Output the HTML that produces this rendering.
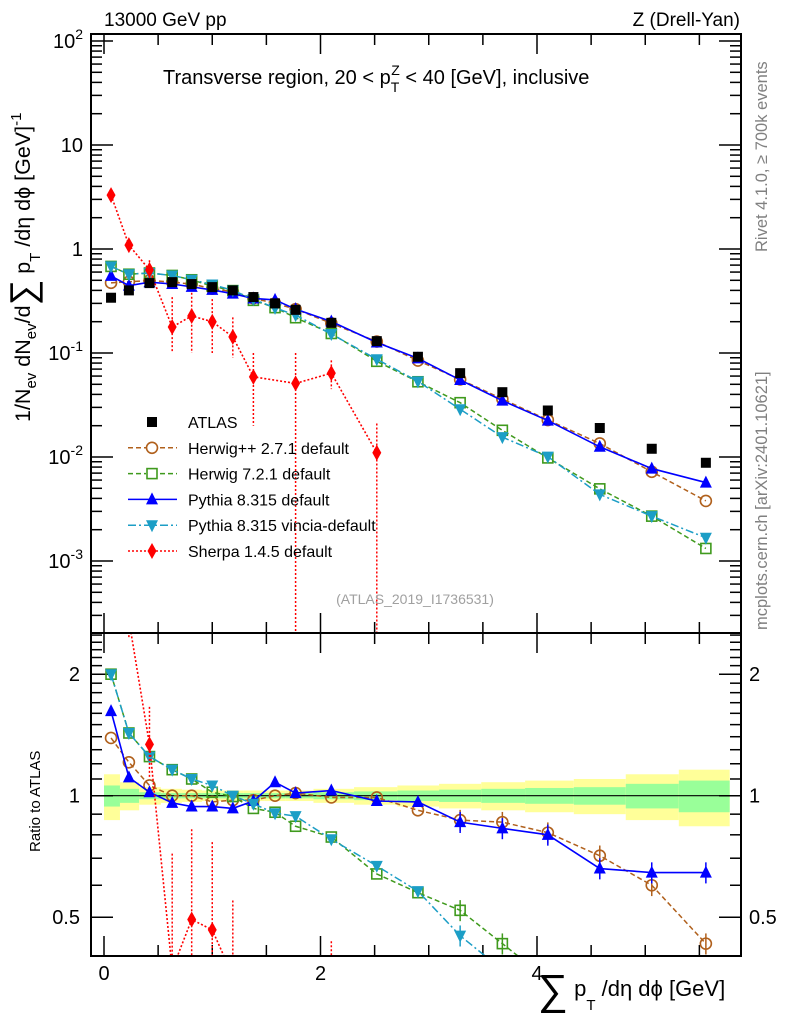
<!DOCTYPE html>
<html><head><meta charset="utf-8"><style>
html,body{margin:0;padding:0;background:#fff;overflow:hidden;width:786px;height:1024px}
svg{display:block;font-family:"Liberation Sans",sans-serif}
</style></head><body>
<svg id="c" width="786" height="1024" viewBox="0 0 786 1024" xmlns="http://www.w3.org/2000/svg">
<defs>
<clipPath id="cm"><rect x="91" y="35" width="650" height="598"/></clipPath>
<clipPath id="cr"><rect x="91" y="634" width="650" height="322"/></clipPath>
</defs>
<rect width="786" height="1024" fill="#fff"/>
<g id="bands" clip-path="url(#cr)"></g>
<g id="grid"></g>
<g id="mainSeries" clip-path="url(#cm)"></g>
<g id="ratioSeries" clip-path="url(#cr)"></g>
<rect x="91" y="34" width="650" height="599" fill="none" stroke="#000" stroke-width="2"/>
<rect x="91" y="633" width="650" height="323" fill="none" stroke="#000" stroke-width="2"/>
<text x="104" y="26" font-size="19">13000 GeV pp</text>
<text x="740" y="26" font-size="19" text-anchor="end">Z (Drell-Yan)</text>
<text x="163" y="84" font-size="20">Transverse region, 20 &lt; p<tspan font-size="14" dy="8">T</tspan><tspan font-size="14" dx="-8" dy="-17">Z</tspan><tspan dy="9"> &lt; 40 [GeV], inclusive</tspan></text>
<text transform="translate(767,252) rotate(-90)" font-size="16.5" fill="#808080">Rivet 4.1.0, ≥ 700k events</text>
<text transform="translate(767,630) rotate(-90)" font-size="16.5" fill="#808080">mcplots.cern.ch [arXiv:2401.10621]</text>
<text x="415" y="604" font-size="14" fill="#a0a0a0" text-anchor="middle">(ATLAS_2019_I1736531)</text>
<text transform="translate(30,422) rotate(-90)" font-size="21.5">1/N<tspan font-size="15" dy="6">ev</tspan><tspan dy="-6"> dN</tspan><tspan font-size="15" dy="6">ev</tspan><tspan dy="-6">/d</tspan><tspan font-size="36" dy="5">∑</tspan><tspan dy="-5"> p</tspan><tspan font-size="15" dy="10">T</tspan><tspan dy="-10"> /dη dϕ  [GeV]</tspan><tspan font-size="15" dy="-9">-1</tspan></text>
<text transform="translate(40,852) rotate(-90)" font-size="15">Ratio to ATLAS</text>
<text x="538" y="996" font-size="22"><tspan font-size="42" dy="8">∑</tspan><tspan dy="-8"> p</tspan><tspan font-size="15" dy="14">T</tspan><tspan dy="-14"> /dη dϕ [GeV]</tspan></text>
<g id="legend"></g>
<script>
const xCenters=[0.065,0.23,0.42,0.63,0.81,1.0,1.19,1.38,1.58,1.77,2.1,2.52,2.9,3.29,3.68,4.1,4.58,5.06,5.56];
const atlas=[0.34,0.40,0.47,0.48,0.46,0.43,0.40,0.345,0.30,0.26,0.195,0.13,0.092,0.064,0.042,0.028,0.019,0.012,0.0088];
const ratioHwpp=[1.39,1.21,1.06,1.0,1.0,0.965,0.975,0.975,1.0,1.015,0.99,0.99,0.92,0.87,0.86,0.81,0.71,0.60,0.43];
const ratioHw7=[2.0,1.43,1.25,1.16,1.10,1.02,0.995,0.93,0.91,0.84,0.79,0.64,0.575,0.52,0.43,0.35,0.26,0.225,0.15];
const ratioPy8=[1.62,1.11,1.02,0.96,0.94,0.94,0.93,0.97,1.08,1.015,1.03,0.97,0.965,0.86,0.83,0.80,0.66,0.645,0.645];
const ratioVincia=[2.0,1.43,1.25,1.16,1.10,1.06,1.0,0.955,0.905,0.89,0.78,0.67,0.58,0.45,0.37,0.36,0.23,0.225,0.19];
const sherpa=[3.3,1.09,0.63,0.178,0.227,0.20,0.143,0.059,null,0.051,0.064,0.011,null,null,null,null,null,null,null];
const sherpaLo=[3.0,0.98,0.52,0.10,0.10,0.10,0.09,0.02,null,0,0.045,0,null,null,null,null,null,null,null];
const sherpaHi=[3.6,1.2,0.78,0.345,0.38,0.33,0.22,0.10,null,0.10,0.085,0.021,null,null,null,null,null,null,null];
const bandYellow=[0.13,0.08,0.05,0.04,0.035,0.03,0.03,0.03,0.03,0.03,0.04,0.05,0.06,0.07,0.08,0.09,0.1,0.13,0.16];
const bandGreen=[0.06,0.04,0.02,0.015,0.015,0.015,0.015,0.015,0.015,0.015,0.02,0.025,0.03,0.035,0.04,0.045,0.05,0.07,0.09];
const xTicks=[0,2,4];
const mainDecades=[-3,-2,-1,0,1,2];
const ratioTicks=[0.5,1,2];

const NS="http://www.w3.org/2000/svg";
const X=v=>104+v*108.25;
const Ym=v=>249-104*Math.log10(v);
const Yr=r=>795.7-121.5*Math.log2(r);
function mk(tag,attrs,parent){const e=document.createElementNS(NS,tag);for(const k in attrs)e.setAttribute(k,attrs[k]);parent.appendChild(e);return e;}
const grid=document.getElementById('grid');
for(let v=0;v<=5.8;v+=0.5){
  const major=Math.abs(v-Math.round(v/2)*2)<1e-6;
  const L=major?20:11;
  const x=X(v);
  [[34,34+L],[633,633-L],[633,633+L],[956,956-L]].forEach(p=>{
    const t=mk('line',{x1:x,x2:x,y1:p[0],y2:p[1],stroke:'#000','stroke-width':1.5},grid);
    
    
  });
}
xTicks.forEach(v=>{
  const t=mk('text',{x:X(v),y:980,'font-size':20,'text-anchor':'middle'},grid);t.textContent=v;
  
  
});
for(let d=-4;d<=2;d++){
  for(let m=1;m<10;m++){
    const v=m*Math.pow(10,d);const y=Ym(v);
    if(y<34||y>633)continue;
    const L=m===1?22:11;
    [[91,91+L],[741,741-L]].forEach(p=>{
      const t=mk('line',{x1:p[0],x2:p[1],y1:y,y2:y,stroke:'#000','stroke-width':1.5},grid);
      
      
    });
  }
}
mainDecades.forEach(d=>{
  const y=Ym(Math.pow(10,d));
  const t=mk('text',{x:83,y:y+7,'font-size':20,'text-anchor':'end'},grid);
  if(d===0)t.textContent='1';else if(d===1)t.textContent='10';
  else{t.textContent='10';const s=mk('tspan',{'font-size':14,dy:-9},t);s.textContent=String(d);}
  
  
});
const rMinor=[0.4,0.5,0.6,0.7,0.8,0.9,1,1.1,1.2,1.3,1.4,1.5,1.6,1.7,1.8,1.9,2,2.1,2.2,2.3,2.4,2.5];
rMinor.forEach(r=>{
  const y=Yr(r);if(y<633||y>956)return;
  const L=(r===0.5||r===1||r===2)?22:11;
  [[91,91+L],[741,741-L]].forEach(p=>{
    const t=mk('line',{x1:p[0],x2:p[1],y1:y,y2:y,stroke:'#000','stroke-width':1.5},grid);
    
    
  });
});
ratioTicks.forEach(r=>{
  [[80,'end'],[749,'start']].forEach(p=>{
    const t=mk('text',{x:p[0],y:Yr(r)+7,'font-size':20,'text-anchor':p[1]},grid);t.textContent=r;
    
    
  });
});
const bands=document.getElementById('bands');
const edges=xCenters.map((c,i)=>i===0?0:(xCenters[i-1]+c)/2);edges.push(5.78);
xCenters.forEach((c,i)=>{
  const x1=X(edges[i]),x2=X(edges[i+1]);
  const y=mk('rect',{x:x1,width:x2-x1,y:Yr(1+bandYellow[i]),height:Yr(1-bandYellow[i])-Yr(1+bandYellow[i]),fill:'#ffff99'},bands);
  
  
  const g=mk('rect',{x:x1,width:x2-x1,y:Yr(1+bandGreen[i]),height:Yr(1-bandGreen[i])-Yr(1+bandGreen[i]),fill:'#99ff99'},bands);
  
  
});
const one=mk('line',{x1:91,x2:741,y1:Yr(1),y2:Yr(1),stroke:'#000','stroke-width':1.2},bands);



function marker(type,x,y,color,parent){
  let e;
  if(type==='sq')e=mk('rect',{x:x-5,y:y-5,width:10,height:10,fill:color},parent);
  else if(type==='osq')e=mk('rect',{x:x-5,y:y-5,width:10,height:10,fill:'none',stroke:color,'stroke-width':1.6},parent);
  else if(type==='circ')e=mk('circle',{cx:x,cy:y,r:5.5,fill:'none',stroke:color,'stroke-width':1.6},parent);
  else if(type==='up')e=mk('polygon',{points:`${x},${y-7} ${x-6},${y+5} ${x+6},${y+5}`,fill:color},parent);
  else if(type==='dn')e=mk('polygon',{points:`${x},${y+7} ${x-6},${y-5} ${x+6},${y-5}`,fill:color},parent);
  else if(type==='dia')e=mk('polygon',{points:`${x},${y-8} ${x-4.5},${y} ${x},${y+8} ${x+4.5},${y}`,fill:color},parent);
  return e;
}
const mainG=document.getElementById('mainSeries');
const ratG=document.getElementById('ratioSeries');
const series=[
 {name:'herwigpp',ratio:ratioHwpp,color:'#b0601c',m:'circ',dash:'5,3',w:1.5},
 {name:'herwig7',ratio:ratioHw7,color:'#3f9a1d',m:'osq',dash:'5,3',w:1.5},
 {name:'pythia8',ratio:ratioPy8,color:'#0000ff',m:'up',dash:'',w:1.6},
 {name:'pythia8-vincia',ratio:ratioVincia,color:'#1c9ec6',m:'dn',dash:'8,3,2,3',w:1.5}
];
series.forEach(s=>{
  const vals=s.ratio.map((r,i)=>r*atlas[i]);
  const pm=mk('polyline',{points:vals.map((v,i)=>X(xCenters[i])+','+Ym(v)).join(' '),fill:'none',stroke:s.color,'stroke-width':s.w,'stroke-dasharray':s.dash},mainG);
  
  
  const pr=mk('polyline',{points:s.ratio.map((r,i)=>X(xCenters[i])+','+Yr(r)).join(' '),fill:'none',stroke:s.color,'stroke-width':s.w,'stroke-dasharray':s.dash},ratG);
  
  
  vals.forEach((v,i)=>{
    const x=X(xCenters[i]);
    if(i>=13){const e=0.06;const eb=mk('line',{x1:x,x2:x,y1:Yr(s.ratio[i]*(1+e)),y2:Yr(s.ratio[i]*(1-e)),stroke:s.color,'stroke-width':1.5},ratG);
      
      }
    const a=marker(s.m,x,Ym(v),s.color,mainG);
    
    
    const b=marker(s.m,x,Yr(s.ratio[i]),s.color,ratG);
    
    
  });
});
const sIdx=sherpa.map((v,i)=>i).filter(i=>sherpa[i]!==null);
const sl=mk('polyline',{points:sIdx.map(i=>X(xCenters[i])+','+Ym(sherpa[i])).join(' '),fill:'none',stroke:'#ff0000','stroke-width':1.6,'stroke-dasharray':'2,2'},mainG);


const slr=mk('polyline',{points:sIdx.map(i=>X(xCenters[i])+','+Yr(sherpa[i]/atlas[i])).join(' '),fill:'none',stroke:'#ff0000','stroke-width':1.6,'stroke-dasharray':'2,2'},ratG);


sIdx.forEach(i=>{
  const x=X(xCenters[i]);
  const lo=sherpaLo[i]>0?Ym(sherpaLo[i]):640;
  const eb=mk('line',{x1:x,x2:x,y1:Ym(sherpaHi[i]),y2:lo,stroke:'#ff0000','stroke-width':1.5,'stroke-dasharray':'2,2'},mainG);
  
  
  const rlo=sherpaLo[i]>0?Yr(sherpaLo[i]/atlas[i]):960;
  const ebr=mk('line',{x1:x,x2:x,y1:Yr(sherpaHi[i]/atlas[i]),y2:rlo,stroke:'#ff0000','stroke-width':1.5,'stroke-dasharray':'2,2'},ratG);
  
  
  const a=marker('dia',x,Ym(sherpa[i]),'#ff0000',mainG);
  
  
  const b=marker('dia',x,Yr(sherpa[i]/atlas[i]),'#ff0000',ratG);
  
  
});
atlas.forEach((v,i)=>{
  const a=marker('sq',X(xCenters[i]),Ym(v),'#000',mainG);
  
  
});
const leg=document.getElementById('legend');
const legItems=[
 ['ATLAS','sq','#000',null],
 ['Herwig++ 2.7.1 default','circ','#b0601c','5,3'],
 ['Herwig 7.2.1 default','osq','#3f9a1d','5,3'],
 ['Pythia 8.315 default','up','#0000ff',''],
 ['Pythia 8.315 vincia-default','dn','#1c9ec6','8,3,2,3'],
 ['Sherpa 1.4.5 default','dia','#ff0000','2,2']
];
legItems.forEach((it,k)=>{
  const y=422+k*25.8;
  const g=mk('g',{},leg);
  
  
  if(it[3]!==null)mk('line',{x1:128,x2:177,y1:y,y2:y,stroke:it[2],'stroke-width':1.5,'stroke-dasharray':it[3]},g);
  if(it[1]==='circ'||it[1]==='osq')mk('rect',{x:146,y:y-6,width:12,height:12,fill:'#fff'},g);
  marker(it[1],152,y,it[2],g);
  const t=mk('text',{x:188,y:y+6,'font-size':16},g);t.textContent=it[0];
});
</script>
</svg>
</body></html>
